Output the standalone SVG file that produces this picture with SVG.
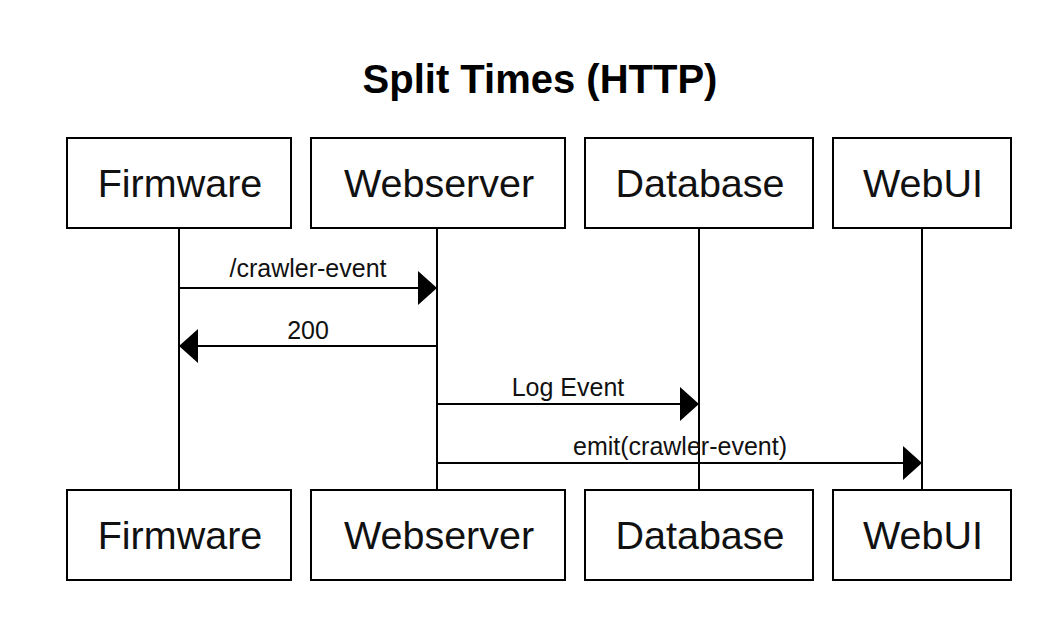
<svg xmlns="http://www.w3.org/2000/svg" width="1054" height="622" viewBox="0 0 1054 622">
<defs>
<style>
.box{fill:#fff;stroke:#000;stroke-width:2}
.life{stroke:#000;stroke-width:2;fill:none}
.msg{stroke:#000;stroke-width:2;fill:none}
.nl{font-family:"Liberation Sans",Arial,sans-serif;font-size:39.5px;text-anchor:middle;fill:#111}
.ml{font-family:"Liberation Sans",Arial,sans-serif;font-size:25px;text-anchor:middle;fill:#111}
.tt{font-family:"Liberation Sans",Arial,sans-serif;font-size:40px;font-weight:bold;text-anchor:middle;fill:#000}
</style>
<marker id="ah" markerWidth="20" markerHeight="34" refX="19" refY="17" orient="auto" markerUnits="userSpaceOnUse">
<path d="M0,0 L19,17 L0,34 Z" fill="#000"/>
</marker>
</defs>
<rect width="1054" height="622" fill="#fff"/>
<text class="tt" x="540" y="93">Split Times (HTTP)</text>
<g id="lifelines">
<line class="life" x1="179" y1="228" x2="179" y2="490"/>
<line class="life" x1="437" y1="228" x2="437" y2="490"/>
<line class="life" x1="699" y1="228" x2="699" y2="490"/>
<line class="life" x1="922" y1="228" x2="922" y2="490"/>
</g>
<g id="connectors">
<line class="msg" x1="179" y1="288" x2="437" y2="288" marker-end="url(#ah)"/>
<text class="ml" x="308" y="277">/crawler-event</text>
<line class="msg" x1="437" y1="346" x2="179" y2="346" marker-end="url(#ah)"/>
<text class="ml" x="308" y="339">200</text>
<line class="msg" x1="437" y1="404" x2="699" y2="404" marker-end="url(#ah)"/>
<text class="ml" x="568" y="396">Log Event</text>
<line class="msg" x1="437" y1="463" x2="922" y2="463" marker-end="url(#ah)"/>
<text class="ml" x="680" y="455">emit(crawler-event)</text>
</g>
<g id="firmware-top"><rect class="box" x="67" y="138" width="224" height="90"/><text class="nl" x="180" y="197">Firmware</text></g>
<g id="webserver-top"><rect class="box" x="311" y="138" width="254" height="90"/><text class="nl" x="439" y="197">Webserver</text></g>
<g id="database-top"><rect class="box" x="585" y="138" width="228" height="90"/><text class="nl" x="700" y="197">Database</text></g>
<g id="webui-top"><rect class="box" x="833" y="138" width="178" height="90"/><text class="nl" x="923" y="197">WebUI</text></g>
<g id="firmware-bottom"><rect class="box" x="67" y="490" width="224" height="90"/><text class="nl" x="180" y="549">Firmware</text></g>
<g id="webserver-bottom"><rect class="box" x="311" y="490" width="254" height="90"/><text class="nl" x="439" y="549">Webserver</text></g>
<g id="database-bottom"><rect class="box" x="585" y="490" width="228" height="90"/><text class="nl" x="700" y="549">Database</text></g>
<g id="webui-bottom"><rect class="box" x="833" y="490" width="178" height="90"/><text class="nl" x="923" y="549">WebUI</text></g>
</svg>
